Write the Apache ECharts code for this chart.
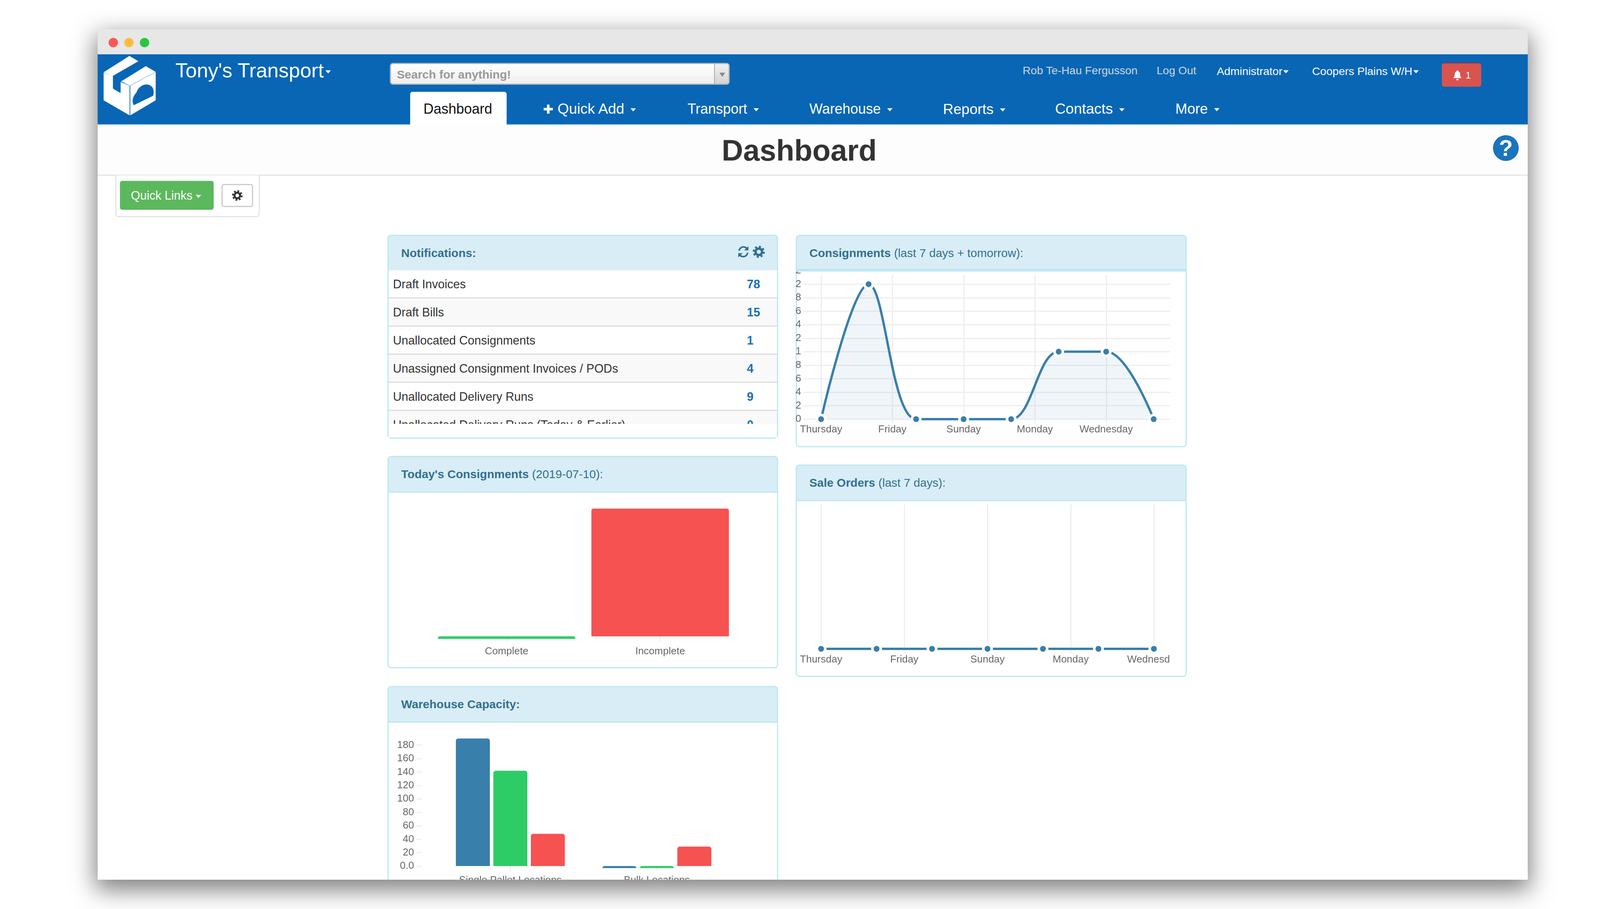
<!DOCTYPE html>
<html>
<head>
<meta charset="utf-8">
<title>Dashboard</title>
<script src="https://cdn.jsdelivr.net/npm/echarts@6/dist/echarts.min.js"></script>
<style>
html, body { margin: 0; padding: 0; width: 4160px; height: 2327px; background: #fff; overflow: hidden; font-family: "Liberation Sans", Arial, sans-serif; }
.win { position: absolute; left: 250px; top: 75px; width: 3661px; height: 2177px; overflow: hidden; background: #fff; border-radius: 10px 10px 0 0; }
.shadow { position: absolute; left: 250px; top: 75px; width: 3661px; height: 2177px; border-radius: 10px 10px 0 0; box-shadow: 0 20px 60px 6px rgba(0,0,0,0.5); }
.in { position: absolute; left: -250px; top: -75px; width: 4160px; height: 2327px; }
.a { position: absolute; white-space: nowrap; }
.t { position: absolute; white-space: nowrap; line-height: 1; transform: translateY(-50%); }
.caret { display: inline-block; width: 0; height: 0; border-left: 7px solid transparent; border-right: 7px solid transparent; border-top: 8px solid currentColor; vertical-align: middle; margin-left: 16px; }
.panel { position: absolute; box-sizing: border-box; border: 3px solid #bce8f1; border-radius: 9px; background: #fff; overflow: hidden; }
.phead { position: absolute; left: 0; right: 0; top: 0; box-sizing: border-box; background: #d9edf7; border-bottom: 3px solid #bce8f1; color: #31708f; font-size: 30px; z-index: 3; }
.phead span { position: absolute; left: 32px; top: 50%; transform: translateY(-50%); white-space: nowrap; }
.chart { position: absolute; overflow: hidden; z-index: 2; }
.row { position: absolute; left: 995px; width: 994px; color: #333; font-size: 30.5px; overflow: hidden; }
.row b { position: absolute; left: 917px; top: 20px; color: #1a6fb8; line-height: 1; }
.row span { position: absolute; left: 11px; top: 20px; line-height: 1; white-space: nowrap; }
.sep { position: absolute; left: 995px; width: 994px; height: 3px; background: #ddd; }
</style>
</head>
<body>
<div class="shadow"></div>
<div class="win"><div class="in" id="page">

  <svg width="0" height="0" style="position:absolute">
    <symbol id="gear" viewBox="0 0 32 32">
      <circle cx="16" cy="16" r="8.5" fill="none" stroke="currentColor" stroke-width="6"/>
      <circle cx="16" cy="16" r="13" fill="none" stroke="currentColor" stroke-width="6" stroke-dasharray="5.2 5"/>
    </symbol>
  </svg>

  <div class="a" style="left:250px;top:75px;width:3661px;height:64px;background:#e7e7e7"></div>
  <div class="a" style="left:278px;top:97px;width:24px;height:24px;border-radius:50%;background:#fc5753"></div>
  <div class="a" style="left:318px;top:97px;width:24px;height:24px;border-radius:50%;background:#fdbc40"></div>
  <div class="a" style="left:358px;top:97px;width:24px;height:24px;border-radius:50%;background:#27c83f"></div>

  <div class="a" style="left:250px;top:139px;width:3661px;height:178px;background:#0866b5;border-bottom:2px solid #3f8ccc"></div>
  <svg class="a" style="left:240px;top:60px" width="1100" height="500" viewBox="0 0 1568 1500" preserveAspectRatio="none">
    <polygon fill="#fff" points="36,375 130,250 163,290 68,405"/>
    <polygon fill="#fff" points="100,445 190,328 226,372 132,478"/>
    <polygon fill="#fff" points="36,378 70,405 70,500 98,535 98,450 130,478 130,705 36,590"/>
    <polygon fill="#fff" points="134,478 226,374 226,590 134,705"/>
    <polyline fill="none" stroke="#a9c8e6" stroke-width="2" points="100,445 132,478 226,372"/>
    <line x1="132" y1="478" x2="132" y2="705" stroke="#a9c8e6" stroke-width="2"/>
    <path fill="#0866b5" d="M146,628 C138,600 142,560 156,530 C160,495 180,462 198,470 C216,478 222,510 217,555 Z"/>
  </svg>
  <div class="t" style="left:449px;top:180px;font-size:52px;color:#fff">Tony's Transport<span class="caret" style="margin-left:4px"></span></div>

  <div class="a" style="left:998px;top:161px;width:870px;height:56px;box-sizing:border-box;border:3px solid #b5b5b5;border-radius:8px;background:linear-gradient(#fff,#eee)"></div>
  <div class="a" style="left:1828px;top:164px;width:37px;height:50px;box-sizing:border-box;background:linear-gradient(#f0f0f0,#d4d4d4);border-left:2px solid #aaa;border-radius:0 6px 6px 0"></div>
  <div class="a" style="left:1842px;top:186px;width:0;height:0;border-left:7px solid transparent;border-right:7px solid transparent;border-top:11px solid #888"></div>
  <div class="t" style="left:1016px;top:191px;font-size:30px;font-weight:bold;color:#999">Search for anything!</div>

  <div class="t" style="left:2618px;top:180px;font-size:28.5px;color:#cfd8e2">Rob Te-Hau Fergusson</div>
  <div class="t" style="left:2961px;top:180px;font-size:28.5px;color:#cfd8e2">Log Out</div>
  <div class="t" style="left:3115px;top:182px;font-size:28.5px;color:#fff">Administrator<span class="caret" style="margin-left:2px"></span></div>
  <div class="t" style="left:3359px;top:182px;font-size:28.5px;color:#fff">Coopers Plains W/H<span class="caret" style="margin-left:2px"></span></div>
  <div class="a" style="left:3691px;top:161px;width:101px;height:61px;background:#d9534f;border-radius:6px;border-top:2px solid #c9302c;box-sizing:border-box"></div>
  <svg class="a" style="left:3720px;top:180px" width="22" height="26" viewBox="0 0 22 26"><path fill="#fff" d="M11 0c2 0 3 2 3 3 3 1 4 4 4 8 0 5 2 7 4 9H0c2-2 4-4 4-9 0-4 1-7 4-8 0-1 1-3 3-3zM8 22h6c0 2-1 4-3 4s-3-2-3-4z"/></svg>
  <div class="t" style="left:3752px;top:193px;font-size:24px;color:#fff">1</div>

  <div class="a" style="left:1050px;top:235px;width:247px;height:84px;background:#fff;border-radius:6px 6px 0 0"></div>
  <div class="t" style="left:1084px;top:279px;font-size:36px;color:#111">Dashboard</div>
  <div class="t" style="left:1390px;top:279px;font-size:37.5px;color:#fff"><span style="font-family:'DejaVu Sans';font-size:32px">✚</span> Quick Add<span class="caret"></span></div>
  <div class="t" style="left:1760px;top:279px;font-size:36px;color:#fff">Transport<span class="caret"></span></div>
  <div class="t" style="left:2072px;top:279px;font-size:36px;color:#fff">Warehouse<span class="caret"></span></div>
  <div class="t" style="left:2414px;top:279px;font-size:37px;color:#fff">Reports<span class="caret"></span></div>
  <div class="t" style="left:2701px;top:279px;font-size:37.5px;color:#fff">Contacts<span class="caret"></span></div>
  <div class="t" style="left:3009px;top:279px;font-size:36.5px;color:#fff">More<span class="caret"></span></div>

  <div class="a" style="left:250px;top:319px;width:3661px;height:128px;background:#fdfdfd;border-bottom:3px solid #e5e5e5"></div>
  <div class="t" style="left:2046px;top:385px;font-size:76px;font-weight:bold;color:#333;transform:translate(-50%,-50%)">Dashboard</div>
  <div class="a" style="left:3822px;top:346px;width:66px;height:66px;border-radius:50%;background:#1a75bc"></div>
  <div class="t" style="left:3855px;top:379px;font-size:58px;font-weight:bold;color:#fff;transform:translate(-50%,-50%)">?</div>

  <div class="a" style="left:295px;top:449px;width:370px;height:107px;box-sizing:border-box;border:3px solid #e5e5e5;border-top:0;border-radius:0 0 8px 8px;background:#fff"></div>
  <div class="a" style="left:307px;top:463px;width:240px;height:74px;border-radius:6px;background:#5cb85c"></div>
  <div class="t" style="left:335px;top:500px;font-size:30.5px;color:#fff">Quick Links<span class="caret" style="margin-left:8px"></span></div>
  <div class="a" style="left:567px;top:471px;width:81px;height:59px;box-sizing:border-box;border:3px solid #ccc;border-radius:6px;background:#fff"></div>
  <svg class="a" style="left:594px;top:487px;color:#333" width="27" height="27"><use href="#gear"/></svg>

  <div class="panel" style="left:992px;top:601px;width:1000px;height:522px;z-index:1"></div>
  <div class="a" id="notice" style="left:0;top:0;z-index:2"></div>
  <div class="a" style="left:995px;top:1085px;width:994px;height:35px;background:#fff;z-index:3"></div>
  <div class="panel" style="left:992px;top:601px;width:1000px;height:91px;z-index:3;background:transparent;border-bottom:0;border-radius:9px 9px 0 0">
    <div class="phead" style="height:91px"><span><b>Notifications:</b></span></div>
  </div>
  <svg class="a" style="left:1888px;top:629px;z-index:4" width="30" height="31" viewBox="0 0 30 31">
    <path fill="none" stroke="#31708f" stroke-width="4" d="M4 13C5 7 10 3 15 3c4 0 7 2 9 4M26 18c-1 6-6 10-11 10-4 0-7-2-9-4"/>
    <path fill="#31708f" d="M28 1v11H17zM2 30V19h11z"/>
  </svg>
  <svg class="a" style="left:1927px;top:629px;color:#31708f;z-index:4" width="31" height="31"><use href="#gear"/></svg>

  <div class="panel" style="left:2037px;top:601px;width:1001px;height:544px">
    <div class="phead" style="height:91px"><span><b>Consignments</b> (last 7 days + tomorrow):</span></div>
  </div>
  <div class="chart" id="consignments" style="left:2037px;top:690px;width:959px;height:450px"></div>
  <div class="a" style="left:2037px;top:688px;width:1001px;height:4px;background:#bce8f1;z-index:3"></div>

  <div class="panel" style="left:992px;top:1167px;width:1000px;height:544px">
    <div class="phead" style="height:91px"><span><b>Today's Consignments</b> (2019-07-10):</span></div>
  </div>
  <div class="chart" id="today" style="left:995px;top:1260px;width:994px;height:448px"></div>

  <div class="panel" style="left:2037px;top:1189px;width:1001px;height:544px">
    <div class="phead" style="height:91px"><span><b>Sale Orders</b> (last 7 days):</span></div>
  </div>
  <div class="chart" id="sales" style="left:2040px;top:1283px;width:956px;height:445px"></div>

  <div class="panel" style="left:992px;top:1756px;width:1000px;height:600px">
    <div class="phead" style="height:91px"><span><b>Warehouse Capacity:</b></span></div>
  </div>
  <div class="chart" id="warehouse" style="left:995px;top:1850px;width:994px;height:410px"></div>

</div></div>

<script>
// notifications list
var noticeLabels = ['Draft Invoices', 'Draft Bills', 'Unallocated Consignments', 'Unassigned Consignment Invoices / PODs', 'Unallocated Delivery Runs', 'Unallocated Delivery Runs (Today & Earlier)'];
var noticeCounts = [78, 15, 1, 4, 9, 0];

// consignments, last 7 days + tomorrow
var consignmentValues = [0, 2, 0, 0, 0, 1, 1, 0];
var consignmentDayTicks = [0, 1.5, 3, 4.5, 6];
var consignmentDayLabels = ['Thursday', 'Friday', 'Sunday', 'Monday', 'Wednesday'];
var consignmentYLabels = ['0', '2', '4', '6', '8', '1', '2', '4', '6', '8', '2', '2'];

// today's consignments
var todayCategories = ['Complete', 'Incomplete'];
var todayValues = [-0.02, 1];

// sale orders, last 7 days
var saleValues = [0, 0, 0, 0, 0, 0, 0];
var saleDayTicks = [0, 1.5, 3, 4.5, 6];
var saleDayLabels = ['Thursday', 'Friday', 'Sunday', 'Monday', 'Wednesday'];

// warehouse capacity
var warehouseCategories = ['Single Pallet Locations', 'Bulk Locations'];
var warehouseBlue = [190, -3];
var warehouseGreen = [142, -3];
var warehouseRed = [48, 29];
var warehouseTicks = [0, 20, 40, 60, 80, 100, 120, 140, 160, 180];

var BLUE = '#387fab', GREEN = '#2ecc66', RED = '#f75252';
var FONT = '"Liberation Sans", Arial, sans-serif';

function indexed(values) {
	var out = [];
	for(var i = 0; i < values.length; i++) {
		out.push([i, values[i]]);
	}
	return out;
}

function verticalLines(ticks, low, high) {
	var lines = [];
	for(var i = 0; i < ticks.length; i++) {
		lines.push([{ xAxis: ticks[i], yAxis: low }, { xAxis: ticks[i], yAxis: high }]);
	}
	return {
		silent: true,
		symbol: 'none',
		z: 1,
		label: { show: false },
		lineStyle: { color: '#eeeeee', width: 3, type: 'solid' },
		data: lines
	};
}

function lineSeries(values, ticks, low, high, area) {
	return {
		type: 'line',
		data: indexed(values),
		smooth: 0.35,
		showAllSymbol: true,
		symbol: 'circle',
		symbolSize: 21.5,
		lineStyle: { color: BLUE, width: 6 },
		itemStyle: { color: BLUE, borderColor: '#fff', borderWidth: 6.5 },
		areaStyle: area ? { color: 'rgba(56,127,171,0.11)' } : undefined,
		markLine: verticalLines(ticks, low, high),
		z: 3
	};
}

function dayAxis(min, max, ticks, labels, margin) {
	return {
		type: 'value',
		min: min,
		max: max,
		splitLine: { show: false },
		axisLine: { show: false },
		axisTick: { show: false },
		axisLabel: {
			customValues: ticks,
			margin: margin,
			color: '#666',
			fontSize: 26,
			fontFamily: FONT,
			formatter: function(v) {
				return labels[ticks.indexOf(v)];
			}
		}
	};
}

// page items
var noticeBox = document.getElementById('notice');
var html = '';
for(var i = 0; i < noticeLabels.length; i++) {
	var rowTop = 692 + i * 72;
	var rowHeight = Math.min(69, 1085 - rowTop);
	html += '<div class="row" style="top:' + rowTop + 'px;height:' + rowHeight + 'px;background:' + (i % 2 ? '#f9f9f9' : '#fff') + '"><span>' +
		noticeLabels[i].replace('&', '&amp;') + '</span><b>' + noticeCounts[i] + '</b></div>';
	if(i < 5) {
		html += '<div class="sep" style="top:' + (rowTop + 69) + 'px"></div>';
	}
}
noticeBox.innerHTML = html;

var consignmentChart = echarts.init(document.getElementById('consignments'));
consignmentChart.setOption({
	animation: false,
	grid: { outerBoundsMode: 'none', left: 20, right: 0, top: 3, height: 414.6 },
	xAxis: dayAxis(-0.37, 7.35, consignmentDayTicks, consignmentDayLabels, -21),
	yAxis: {
		type: 'value',
		min: -0.2,
		max: 2.2,
		interval: 0.2,
		axisLine: { show: false, onZero: false },
		axisTick: { show: false },
		splitLine: { showMinLine: false, lineStyle: { color: '#eeeeee', width: 3 } },
		axisLabel: {
			showMinLabel: false,
			margin: 6,
			color: '#666',
			fontSize: 26,
			fontFamily: FONT,
			formatter: function(v) {
				return consignmentYLabels[Math.round(v * 5)];
			}
		}
	},
	series: [lineSeries(consignmentValues, consignmentDayTicks, -0.064, 2.14, true)]
});

var todayChart = echarts.init(document.getElementById('today'));
todayChart.setOption({
	animation: false,
	grid: { outerBoundsMode: 'none', left: 105.5, width: 786, top: 42, height: 336.8 },
	xAxis: {
		type: 'category',
		data: todayCategories,
		axisLine: { show: false },
		axisTick: { show: true, alignWithLabel: true, length: 13, lineStyle: { color: '#eeeeee', width: 3 } },
		axisLabel: { color: '#666', fontSize: 26, fontFamily: FONT, margin: 16 }
	},
	yAxis: {
		type: 'value',
		min: -0.03,
		max: 1,
		splitLine: { show: false },
		axisLine: { show: false, onZero: false },
		axisTick: { show: false },
		axisLabel: { show: false }
	},
	series: [{
		type: 'bar',
		data: todayValues,
		barWidth: 352,
		itemStyle: {
			color: function(p) {
				return p.dataIndex == 0 ? GREEN : RED;
			},
			borderRadius: [5, 5, 0, 0]
		}
	}]
});

var saleChart = echarts.init(document.getElementById('sales'));
saleChart.setOption({
	animation: false,
	grid: { outerBoundsMode: 'none', left: 17, right: 0, top: 8, height: 381 },
	xAxis: dayAxis(-0.317, 6.296, saleDayTicks, saleDayLabels, 4),
	yAxis: { type: 'value', min: -0.03, max: 1, show: false, splitLine: { show: false } },
	series: [lineSeries(saleValues, saleDayTicks, -0.03, 1, false)]
});

var warehouseChart = echarts.init(document.getElementById('warehouse'));
function warehouseBar(values, color) {
	return {
		type: 'bar',
		data: values,
		barWidth: 87,
		barGap: '10.3%',
		itemStyle: { color: color, borderRadius: [6, 6, 0, 0] }
	};
}
warehouseChart.setOption({
	animation: false,
	grid: { outerBoundsMode: 'none', left: 124, width: 750, top: 37, height: 337 },
	xAxis: {
		type: 'category',
		data: warehouseCategories,
		axisLine: { show: false },
		axisTick: { show: true, alignWithLabel: true, length: 13, lineStyle: { color: '#eeeeee', width: 3 } },
		axisLabel: { color: '#666', fontSize: 26, fontFamily: FONT, margin: 17 }
	},
	yAxis: {
		type: 'value',
		min: -4,
		max: 192,
		offset: 40,
		splitLine: { show: false },
		axisLine: { show: false, onZero: false },
		axisTick: { show: true, customValues: warehouseTicks, length: 12, lineStyle: { color: '#eeeeee', width: 3 } },
		axisLabel: {
			customValues: warehouseTicks,
			margin: 19,
			color: '#666',
			fontSize: 26,
			fontFamily: FONT,
			formatter: function(v) {
				return v == 0 ? '0.0' : String(v);
			}
		}
	},
	series: [warehouseBar(warehouseBlue, BLUE), warehouseBar(warehouseGreen, GREEN), warehouseBar(warehouseRed, RED)]
});
</script>
</body>
</html>
